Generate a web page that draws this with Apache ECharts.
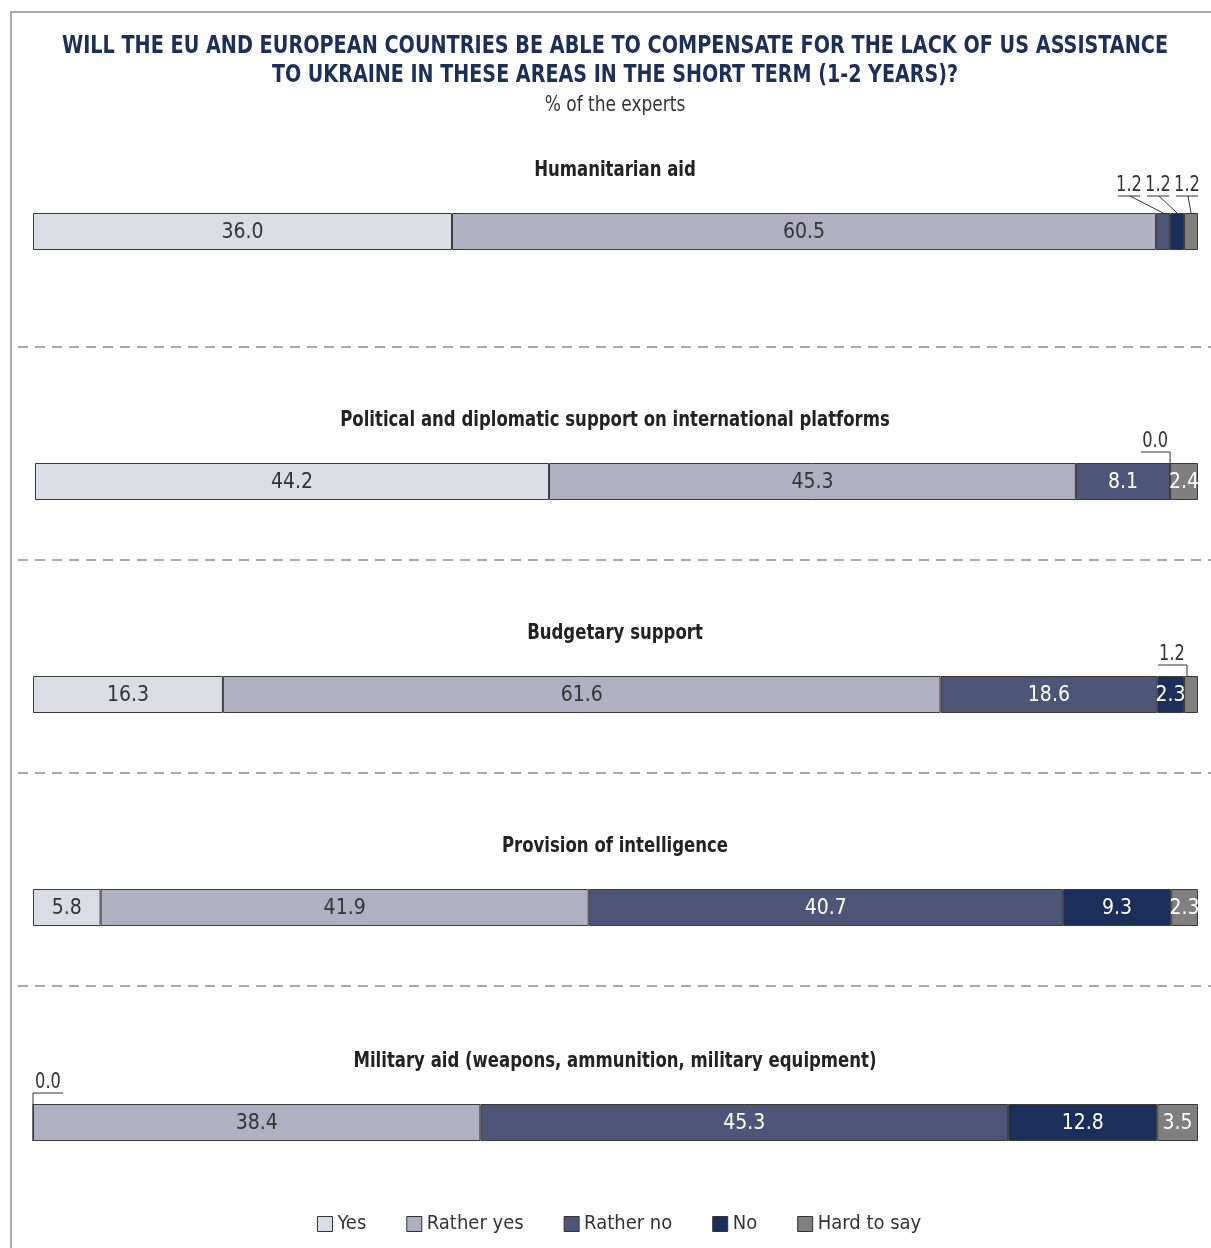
<!DOCTYPE html>
<html>
<head>
<meta charset="utf-8">
<title>EU compensation for lack of US assistance</title>
<script src="https://cdn.jsdelivr.net/npm/echarts@6/dist/echarts.min.js"></script>
<style>
  html, body { margin: 0; padding: 0; background: #ffffff; }
  #chart { width: 1211px; height: 1248px; }
</style>
</head>
<body>
<div id="chart"></div>
<script>
// Survey areas (one stacked bar each)
const areas = [
  'Humanitarian aid',
  'Political and diplomatic support on international platforms',
  'Budgetary support',
  'Provision of intelligence',
  'Military aid (weapons, ammunition, military equipment)'
];
// Answer options
const answers = ['Yes', 'Rather yes', 'Rather no', 'No', 'Hard to say'];
// Shares of experts, % (per area, in the order above)
const yesValues        = [36.0, 44.2, 16.3, 5.8, 0.0];
const ratherYesValues  = [60.5, 45.3, 61.6, 41.9, 38.4];
const ratherNoValues   = [1.2, 8.1, 18.6, 40.7, 45.3];
const noValues         = [1.2, 0.0, 2.3, 9.3, 12.8];
const hardToSayValues  = [1.2, 2.4, 1.2, 2.3, 3.5];

const titleLines = [
  'WILL THE EU AND EUROPEAN COUNTRIES BE ABLE TO COMPENSATE FOR THE LACK OF US ASSISTANCE',
  'TO UKRAINE IN THESE AREAS IN THE SHORT TERM (1-2 YEARS)?'
];
const unitNote = '% of the experts';

const answerValues = [yesValues, ratherYesValues, ratherNoValues, noValues, hardToSayValues];
const answerColors = ['#dcdce5', '#b1b0c2', '#4e5678', '#1b2f5b', '#7f7f80'];
const answerTextColors = ['#333333', '#333333', '#ffffff', '#ffffff', '#ffffff'];

// Segments narrower than this get an outside callout instead of an inside label
const CALLOUT_LIMIT = 2;

const FONT = "'DejaVu Sans Condensed', 'Liberation Sans Narrow', 'Roboto', sans-serif";
const NAVY = '#1b2f5a';

const barTops = [213, 463, 676, 889, 1104];
const barLefts = [33, 35, 33, 33, 33];
const BAR_H = 37;
const titleCenters = [171, 421, 634, 847, 1062];
const dividerYs = [347, 560, 773, 986];
const CENTER_X = 615;

const grids = [], xAxes = [], yAxes = [], series = [];

areas.forEach(function (area, r) {
  const total = answerValues.reduce(function (s, arr) { return s + arr[r]; }, 0);
  grids.push({ left: barLefts[r], right: 13, top: barTops[r], height: BAR_H, containLabel: false });
  xAxes.push({ type: 'value', gridIndex: r, min: 0, max: total, show: false });
  yAxes.push({ type: 'category', gridIndex: r, data: [area], show: false });

  answers.forEach(function (ans, a) {
    series.push({
      type: 'bar',
      name: ans,
      xAxisIndex: r,
      yAxisIndex: r,
      stack: 'area' + r,
      barWidth: BAR_H,
      data: [answerValues[a][r]],
      itemStyle: { color: answerColors[a], borderColor: '#3a3a3a', borderWidth: 1 },
      label: {
        show: true,
        position: 'inside',
        offset: [0, 1],
        fontFamily: FONT,
        fontSize: 21,
        color: answerTextColors[a],
        formatter: function (p) {
          return p.value < CALLOUT_LIMIT ? '' : p.value.toFixed(1);
        }
      },
      emphasis: { disabled: true },
      animation: false
    });
  });

  // Callouts for the narrow segments of this bar
  const callouts = [];
  let acc = 0;
  answers.forEach(function (ans, a) {
    const v = answerValues[a][r];
    if (v < CALLOUT_LIMIT) callouts.push([acc, acc + v, v]);
    acc += v;
  });
  if (callouts.length) {
    series.push({
      type: 'custom',
      xAxisIndex: r,
      yAxisIndex: r,
      silent: true,
      animation: false,
      data: callouts,
      renderItem: function (params, api) {
        const n = callouts.length;
        const i = params.dataIndex;
        const start = api.value(0), end = api.value(1), val = api.value(2);
        const p0 = api.coord([start, 0]);
        const p1 = api.coord([end, 0]);
        const top = p0[1] - BAR_H / 2;
        const endPx = api.coord([total, 0])[0];
        const zeroPx = api.coord([0, 0])[0];
        const children = [];
        const lineStyle = { stroke: '#333333', lineWidth: 1, fill: null };
        const label = function (x, y) {
          return {
            type: 'text', x: x, y: y, scaleX: 0.82,
            style: {
              text: val.toFixed(1), x: 0, y: 0,
              align: 'center', verticalAlign: 'middle',
              fontFamily: FONT, fontSize: 22, fill: '#333333'
            }
          };
        };
        if (n > 1) {
          // Several adjacent slivers: labels in a row, diagonal leaders
          const cx = endPx - 11 - (n - 1 - i) * 29;
          const uy = top - 17;
          const segMid = (p0[0] + p1[0]) / 2;
          children.push(label(cx, top - 28));
          children.push({ type: 'line', shape: { x1: cx - 11, y1: uy, x2: cx + 11, y2: uy }, style: lineStyle });
          children.push({ type: 'line', shape: { x1: cx + 1, y1: uy, x2: segMid, y2: top }, style: lineStyle });
        } else {
          const anchor = p0[0] + Math.min((p1[0] - p0[0]) / 2, 3);
          const uy = top - 11;
          const toRight = (anchor - zeroPx) < (endPx - zeroPx) / 2;
          const x2 = toRight ? anchor + 30 : anchor - 29;
          const cx = toRight ? anchor + 15 : anchor - 15;
          children.push(label(cx, top - 22));
          children.push({ type: 'polyline', shape: { points: [[x2, uy], [anchor, uy], [anchor, top]] }, style: lineStyle });
        }
        return { type: 'group', children: children };
      }
    });
  }
});

// Headings drawn as horizontally condensed text
function heading(text, y, size, weight, color, squeeze) {
  return {
    type: 'text', silent: true, x: CENTER_X, y: y, scaleX: squeeze,
    style: {
      text: text, x: 0, y: 0, align: 'center', verticalAlign: 'middle',
      fontFamily: FONT, fontSize: size, fontWeight: weight, fill: color
    }
  };
}

const graphics = [
  // Frame
  { type: 'polyline', silent: true, shape: { points: [[11, 1248], [11, 12], [1211, 12]] }, style: { stroke: '#a9a9a9', lineWidth: 2, fill: null } },
  heading(titleLines[0], 46, 25, 'bold', NAVY, 0.855),
  heading(titleLines[1], 75, 25, 'bold', NAVY, 0.85),
  heading(unitNote, 106, 21, 'normal', '#333333', 0.9)
];
areas.forEach(function (area, r) {
  graphics.push(heading(area, titleCenters[r], 21, 'bold', '#222222', 0.875));
});
// Dashed dividers between the bars
dividerYs.forEach(function (y) {
  graphics.push({
    type: 'line', silent: true,
    shape: { x1: 18, y1: y, x2: 1211, y2: y },
    style: { stroke: '#8c8c8c', lineWidth: 1.3, lineDash: [10, 7] }
  });
});

const chart = echarts.init(document.getElementById('chart'), null, { renderer: 'canvas' });
chart.setOption({
  backgroundColor: '#ffffff',
  animation: false,
  grid: grids,
  xAxis: xAxes,
  yAxis: yAxes,
  series: series,
  graphic: graphics,
  tooltip: { show: false },
  legend: {
    data: answers,
    left: 312,
    top: 1209,
    icon: 'rect',
    itemWidth: 15,
    itemHeight: 15,
    itemGap: 40,
    selectedMode: false,
    itemStyle: { borderColor: '#333333', borderWidth: 1 },
    textStyle: { fontFamily: FONT, fontSize: 20, color: '#333333' }
  }
});
</script>
</body>
</html>
